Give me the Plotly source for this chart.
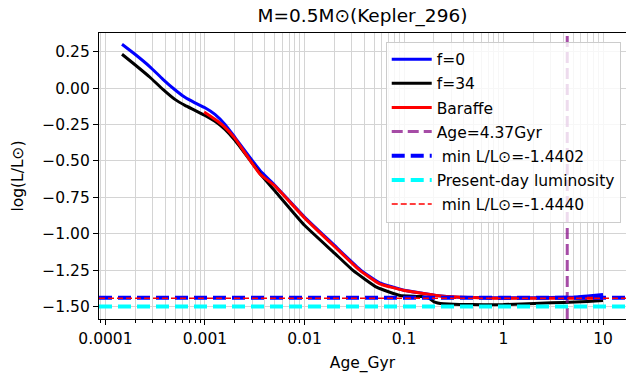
import plotly.graph_objects as go

# ---- evolutionary tracks: age [Gyr] vs log(L/Lsun) ----
age_f0 = [1.466e-4, 1.98e-4, 2.80e-4, 3.78e-4, 4.99e-4, 6.29e-4, 7.93e-4, 1.0e-3, 1.26e-3,
          1.59e-3, 2.0e-3, 3.57e-3, 5.0e-3, 1.0e-2, 2.0e-2, 3.6e-2, 5.7e-2, 0.10, 0.15, 0.21,
          0.37, 0.63, 1.0, 2.0, 4.0, 5.5, 7.0, 10.0]
logL_f0 = [0.302, 0.233, 0.147, 0.061, -0.011, -0.063, -0.101, -0.135, -0.180,
           -0.249, -0.338, -0.565, -0.665, -0.885, -1.080, -1.245, -1.338, -1.388, -1.408, -1.424,
           -1.436, -1.439, -1.4402, -1.440, -1.437, -1.434, -1.428, -1.418]

age_f34 = [1.466e-4, 1.98e-4, 2.80e-4, 3.78e-4, 4.99e-4, 6.29e-4, 7.93e-4, 1.0e-3, 1.26e-3,
           1.59e-3, 2.0e-3, 3.57e-3, 5.0e-3, 1.0e-2, 2.0e-2, 3.07e-2, 5.36e-2, 9.1e-2, 0.15, 0.18,
           0.20, 0.25, 0.37, 0.63, 1.0, 2.33, 4.0, 7.0, 10.0]
logL_f34 = [0.233, 0.161, 0.075, -0.008, -0.077, -0.118, -0.152, -0.187, -0.228,
            -0.283, -0.359, -0.586, -0.703, -0.942, -1.133, -1.252, -1.369, -1.424, -1.432, -1.445,
            -1.468, -1.482, -1.486, -1.488, -1.487, -1.478, -1.472, -1.465, -1.459]

age_baraffe = [9.8e-4, 1.26e-3, 1.59e-3, 2.0e-3, 3.57e-3, 5.0e-3, 1.0e-2, 2.0e-2, 3.6e-2,
               5.7e-2, 0.10, 0.15, 0.21, 0.37, 0.63, 1.0, 2.0, 4.0, 7.0, 10.0]
logL_baraffe = [-0.164, -0.214, -0.269, -0.345, -0.590, -0.670, -0.891, -1.088, -1.252,
                -1.344, -1.390, -1.409, -1.424, -1.436, -1.441, -1.444, -1.444, -1.444, -1.443, -1.443]

# ---- reference values ----
star_age = 4.37
min_logL_f0 = -1.4402
present_logL = -1.50
min_logL_baraffe = -1.4440

x_tick_vals = [1e-4, 1e-3, 1e-2, 1e-1, 1, 10]
x_tick_text = ["0.0001", "0.001", "0.01", "0.1", "1", "10"]
x_minor_vals = [m * 10.0 ** e for e in range(-5, 2) for m in range(2, 10)]
y_tick_vals = [0.25, 0.0, -0.25, -0.5, -0.75, -1.0, -1.25, -1.5]
y_tick_text = ["0.25", "0.00", "\u22120.25", "\u22120.50", "\u22120.75",
               "\u22121.00", "\u22121.25", "\u22121.50"]

FONT = "DejaVu Sans"
FS = 15.5
GRID = "#d4d4d4"

fig = go.Figure()

tracks = [
    ("f=0", age_f0, logL_f0, "#0000ff"),
    ("f=34", age_f34, logL_f34, "#000000"),
    ("Baraffe", age_baraffe, logL_baraffe, "#ff0000"),
]
for name, xs, ys, color in tracks:
    fig.add_trace(go.Scatter(
        x=xs, y=ys, mode="lines", name=name, legendgroup=name,
        line=dict(color=color, width=3, shape="spline", smoothing=0.4),
    ))

# vertical marker at the star's age
fig.add_shape(type="line", xref="x", yref="y domain", x0=star_age, x1=star_age, y0=0, y1=1,
              line=dict(color="rgba(128,0,128,0.7)", width=3, dash="11px,5px"),
              showlegend=True, name=f"Age={star_age}Gyr", legendgroup="age")

# horizontal reference levels
hlines = [
    (min_logL_f0, "#0000ff", 4, "13px,6px", f" min L/L\u2299={min_logL_f0:.4f}", "min0"),
    (present_logL, "#00ffff", 4, "13px,6px", "Present-day luminosity", "present"),
    (min_logL_baraffe, "#ff0000", 1.5, "6px,3px", f" min L/L\u2299={min_logL_baraffe:.4f}", "minb"),
]
for val, color, width, dash, label, grp in hlines:
    fig.add_shape(type="line", xref="x domain", yref="y", x0=0, x1=1, y0=val, y1=val,
                  line=dict(color=color, width=width, dash=dash),
                  showlegend=True, name=label, legendgroup=grp)

fig.update_layout(
    width=626, height=376,
    margin=dict(l=99, r=0, t=33, b=57),
    paper_bgcolor="white", plot_bgcolor="white",
    font=dict(family=FONT, size=FS, color="black"),
    title=dict(text="M=0.5M\u2299(Kepler_296)", x=0.5, xref="paper", xanchor="center",
               y=0.958, yref="container", yanchor="middle",
               font=dict(family=FONT, size=18.5, color="black")),
    legend=dict(x=0.99, xanchor="right", y=0.97, yanchor="top",
                bgcolor="rgba(255,255,255,0.8)", bordercolor="#cccccc", borderwidth=1,
                font=dict(family=FONT, size=FS, color="black"),
                itemwidth=40, traceorder="grouped", tracegroupgap=1),
    xaxis=dict(
        type="log", range=[-4.065, 1.231],
        tickmode="array", tickvals=x_tick_vals, ticktext=x_tick_text,
        ticks="outside", ticklen=5, tickwidth=1.2, tickcolor="black",
        showgrid=True, gridcolor=GRID, gridwidth=1,
        minor=dict(tickmode="array", tickvals=x_minor_vals, ticks="outside", ticklen=3,
                   tickwidth=1, tickcolor="black", showgrid=True, gridcolor=GRID, gridwidth=1),
        showline=True, linecolor="black", linewidth=1.2, mirror=True,
        zeroline=False,
        title=dict(text="Age_Gyr", font=dict(family=FONT, size=FS), standoff=10),
        tickfont=dict(family=FONT, size=FS),
    ),
    yaxis=dict(
        range=[-1.586, 0.379],
        tickmode="array", tickvals=y_tick_vals, ticktext=y_tick_text,
        ticks="outside", ticklen=5, tickwidth=1.2, tickcolor="black",
        showgrid=True, gridcolor=GRID, gridwidth=1,
        showline=True, linecolor="black", linewidth=1.2, mirror=False,
        zeroline=False,
        title=dict(text="log(L/L\u2299)", font=dict(family=FONT, size=FS), standoff=14),
        tickfont=dict(family=FONT, size=FS),
    ),
)

fig.write_html("out.html")
